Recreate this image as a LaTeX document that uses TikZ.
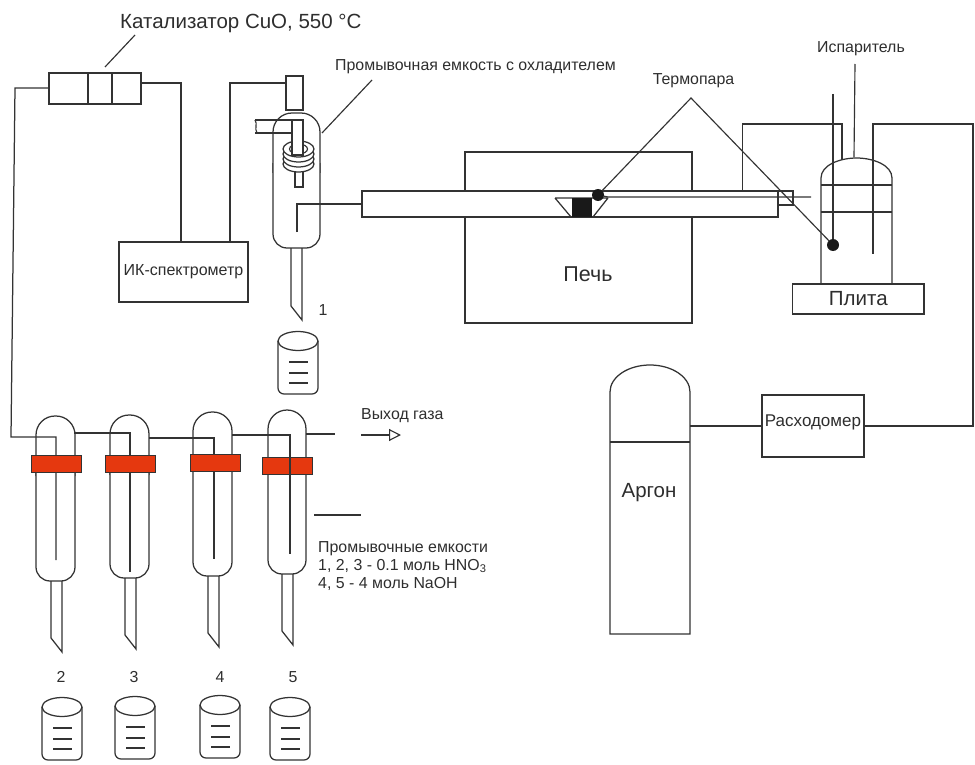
\documentclass[tikz,border=0pt]{standalone}
\usepackage{fontspec}
\setmainfont{Liberation Sans}
\usetikzlibrary{arrows.meta}
\definecolor{rigInk}{HTML}{333333}
\definecolor{rigRed}{HTML}{e5380f}
\definecolor{rigText}{HTML}{2e2e2e}
\tikzset{
  x=1pt, y=-1pt,
  wire/.style={draw=rigInk, line width=1.25pt},
  thin wire/.style={draw=rigInk, line width=1.15pt},
  box/.style={draw=rigInk, line width=1.25pt, fill=white, inner sep=0pt, outer sep=0pt, align=center, text=rigText},
  band/.style={draw=rigInk, line width=0.8pt, fill=rigRed},
  junction/.style={circle, fill=black!90, inner sep=0pt, outer sep=0pt, minimum size=12pt},
  lbl/.style={font=\fontsize{15.9}{18}\selectfont, text=rigText, inner sep=0pt, align=left},
  big/.style={font=\fontsize{20.5}{24}\selectfont, text=rigText, inner sep=0pt},
}
% flask body with its stem: left, right, top, bottom, stem left, tip
\newcommand{\flask}[6]{
  \draw[wire,fill=white,rounded corners=19pt] (#1,#3+60) -- (#1,#3) -- (#2,#3) -- (#2,#3+60);
  \draw[wire,fill=white,rounded corners=14pt] (#1,#3+50) -- (#1,#4) -- (#2,#4) -- (#2,#3+50);
  \draw[wire] (#5,#4) -- (#5,#6-14) -- (#5+11,#6) -- (#5+11,#4);
}
\newcommand{\beaker}[2]{
  \draw[wire,rounded corners=6pt] (#1,#2+10) -- (#1,#2+63) -- (#1+40,#2+63) -- (#1+40,#2+10);
  \draw[wire] (#1+20,#2+10) ellipse [x radius=20, y radius=9.5];
  \foreach \d in {31,42,52}{
    \draw[thin wire] (#1+11,#2+\d) -- (#1+30,#2+\d);}
}
\begin{document}
\begin{tikzpicture}
  \useasboundingbox (0,0) rectangle (975,765);
  % catalyst and IR
  \node[box,minimum width=92,minimum height=31] (cat) at (95,88.5) {};
  \draw[wire] (88,73) -- (88,104) (112,73) -- (112,104);
  \node[big,anchor=west] (catlbl) at (120,23) {Катализатор CuO, 550 °C};
  \coordinate (catlead) at (105,67);
  \draw[thin wire] (135,35) -- (catlead);
  \node[box,minimum width=129,minimum height=60,font=\fontsize{16}{18}\selectfont] (ir) at (183.5,272) {ИК-спектрометр};
  \node[box,minimum width=17,minimum height=34] (cap) at (294.5,93) {};
  \coordinate (catR) at (141,83);
  \coordinate (irA) at (181,242);
  \coordinate (irB) at (230,242);
  \draw[wire] (catR) -| (irA);
  \draw[wire] (irB) |- (cap.west |- 0,83);
  % washer 1
  \flask{273}{320}{113}{248}{291}{320}
  \draw[wire] (255,120) -- (292,120) (255,133) -- (292,133);
  \draw[thin wire] (255,120) .. controls (258,124) and (254,128) .. (257,133);
  \draw[wire,fill=white] (295,170) rectangle (303,187);
  \foreach \yy in {164,159,154,149}{
    \draw[wire,fill=white] (298.5,\yy) ellipse [x radius=15.5, y radius=8];}
  \draw[thin wire] (298.5,149) ellipse [x radius=9, y radius=5];
  \draw[wire,fill=white] (292,120) rectangle (303,155);
  \node[lbl] (n1) at (323,310) {1};
  \beaker{278}{331}
  \node[lbl,anchor=west] (washlbl) at (335,67) {Промывочная емкость с охладителем};
  \coordinate (washlead) at (322,133);
  \draw[thin wire] (372,80) -- (washlead);
  % furnace
  \node[box,minimum width=227,minimum height=171] (oven) at (578.5,237.5) {};
  \node[big,font=\fontsize{21.5}{24}\selectfont] (ovenlbl) at (588,274) {Печь};
  \node[box,minimum width=416,minimum height=26] (tube) at (570,204) {};
  \node[box,minimum width=15,minimum height=14] (endcap) at (785.5,198) {};
  \draw[wire] (555,198) -- (608,198) (555,198) -- (571,217) (593,217) -- (608,198);
  \fill[black!90] (572,198) rectangle (592,217);
  \coordinate (washwire) at (297,232);
  \draw[wire] (washwire) |- (tube.west);
  % evaporator
  \draw[wire,fill=white] (821,284) -- (821,178) .. controls (821,165) and (840,158) .. (856.5,158) .. controls (873,158) and (892,165) .. (892,178) -- (892,284);
  \draw[wire] (821,185) -- (892,185) (821,212) -- (892,212);
  \node[box,minimum width=131.5,minimum height=30,font=\fontsize{20.5}{24}\selectfont] (plate) at (858.3,299) {Плита};
  \node[junction] (tc1) at (598,195) {};
  \node[junction] (tc2) at (833,245) {};
  \coordinate (tctop) at (833,94);
  \coordinate (tcend) at (811,197);
  \draw[wire] (tc1) -- (608,197) -- (tcend);
  \draw[wire] (tctop) -- (tc2);
  \node[lbl,anchor=center] (tclbl) at (693.5,81) {Термопара};
  \coordinate (tcapex) at (691,98);
  \draw[thin wire] (tc1) -- (tcapex) -- (tc2);
  \node[lbl,anchor=center] (evlbl) at (861,49) {Испаритель};
  \coordinate (evlead) at (854,157);
  \draw[thin wire] (855,64) -- (evlead);
  \coordinate (ovenport) at (742.5,191);
  \coordinate (evapin) at (842,160);
  \draw[wire] (ovenport) |- (842,124) -- (evapin);
  % argon line
  \draw[wire] (610,392) .. controls (610,377) and (628,365) .. (650,365) .. controls (672,365) and (690,377) .. (690,392) -- (690,634) -- (610,634) -- cycle;
  \draw[wire] (610,442) -- (690,442);
  \node[big,font=\fontsize{20.5}{24}\selectfont] (argon) at (649,493) {Аргон};
  \node[box,minimum width=102,minimum height=62] (flow) at (813,426) {};
  \node[font=\fontsize{17}{20}\selectfont,text=rigText,inner sep=0pt] (flowlbl) at (813,422) {Расходомер};
  \coordinate (argonout) at (690,426);
  \coordinate (evapout) at (873,254);
  \draw[wire] (argonout) -- (flow.west);
  \draw[wire] (flow.east) -| (973,124) -- (873,124) -- (evapout);
  % washers 2-5
  \flask{36}{75}{416}{581}{51}{652}
  \flask{110}{149}{415}{578}{125}{649}
  \flask{193}{232}{412}{576}{208}{647}
  \flask{268}{306}{410}{574}{282}{645}
  \coordinate (feed2) at (56,560);
  \coordinate (feed3) at (130,572);
  \coordinate (feed4) at (214,559);
  \coordinate (feed5) at (290,554);
  \draw[wire] (cat.west |- 0,88) -- (15,88) -- (11,437) -- (56,437) -- (feed2);
  \draw[wire] (75,433) -- (130,433) -- (feed3);
  \draw[wire] (149,438) -- (214,438) -- (feed4);
  \foreach \l/\t in {31/455,105/455,190/454,262/457}{
    \draw[band] (\l,\t) rectangle (\l+50,\t+17.5);}
  \draw[wire] (232,435) -- (290,435) -- (feed5);
  \coordinate (gasA) at (306,434);
  \coordinate (gasB) at (335,434);
  \draw[wire] (gasA) -- (gasB);
  \coordinate (gasC) at (361,435);
  \coordinate (gasD) at (401,435);
  \draw[thin wire,-{Triangle[open,length=12pt,width=12pt,fill=white]}] (gasC) -- (gasD);
  \node[lbl,anchor=west] (gaslbl) at (361,416) {Выход газа};
  \coordinate (legA) at (314,515);
  \coordinate (legB) at (361,515);
  \draw[wire] (legA) -- (legB);
  \node[lbl,anchor=north west] (leglbl) at (318,541) {Промывочные емкости\\1, 2, 3 - 0.1 моль HNO\textsubscript{3}\\4, 5 - 4 моль NaOH};
  % beakers
  \foreach \lx/\ty/\nm/\nx in {42/697/2/61,115/696/3/134,200/695/4/220,270/697/5/293}{
    \beaker{\lx}{\ty}
    \node[lbl] (n\nm) at (\nx,677) {\nm};
  }
\end{tikzpicture}
\end{document}
